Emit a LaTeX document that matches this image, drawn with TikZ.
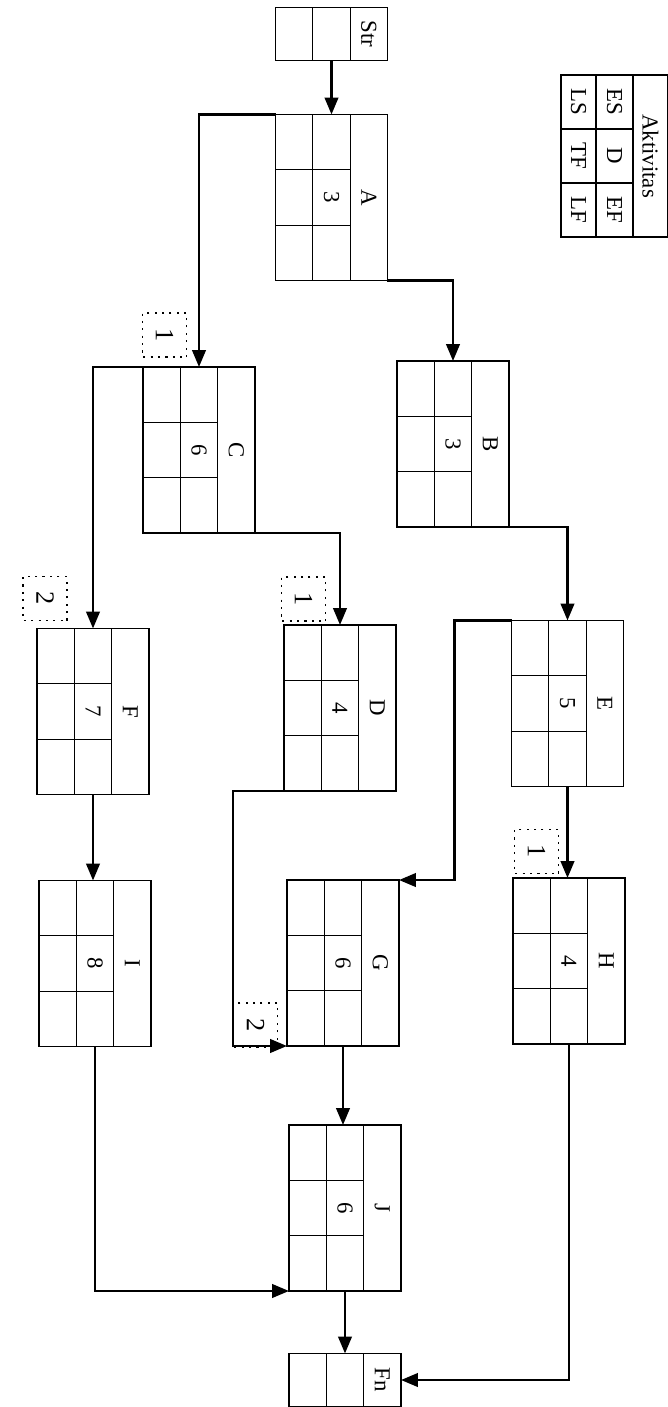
\documentclass[tikz,border=0pt]{standalone}
\usepackage{fontspec}
\setmainfont{Liberation Serif}
\usetikzlibrary{arrows.meta}

\tikzset{
  actbox/.style={draw, line width=1.1pt, minimum width=2.24cm, minimum height=3.32cm, inner sep=0pt, outer sep=0pt},
  termbox/.style={draw, line width=1.1pt, minimum width=2.24cm, minimum height=1.06cm, inner sep=0pt, outer sep=0pt},
  cell/.style={line width=0.6pt},
  txt/.style={rotate=-90, font=\fontsize{13}{15}\selectfont, inner sep=0pt},
  slack/.style={draw, line width=0.9pt, dash pattern=on 1.2pt off 3pt, minimum width=0.88cm, minimum height=0.88cm, inner sep=0pt, rotate=-90, font=\fontsize{15}{17}\selectfont},
  link/.style={line width=1.5pt, -{Triangle[length=3.4mm,width=2.7mm]}},
}

% activity box: name, x, y, label, duration
\newcommand{\actbox}[5]{%
  \begin{scope}[shift={(#2,#3)}]
    \node [actbox] (#1) at (0,0) {};
    \draw [cell] (-18.7,-83) -- (-18.7,83);
    \draw [cell] (18.7,-83) -- (18.7,83);
    \draw [cell] (-56,-27.7) -- (18.7,-27.7);
    \draw [cell] (-56,27.7) -- (18.7,27.7);
    \node [txt] (#1-name) at (37.3,0) {#4};
    \node [txt] (#1-dur) at (0,0) {#5};
  \end{scope}}

% start / finish box: name, x, y, label
\newcommand{\termbox}[4]{%
  \begin{scope}[shift={(#2,#3)}]
    \node [termbox] (#1) at (0,0) {};
    \draw [cell] (-18.7,-26.5) -- (-18.7,26.5);
    \draw [cell] (18.7,-26.5) -- (18.7,26.5);
    \node [txt] (#1-name) at (37.3,0) {#4};
  \end{scope}}

\begin{document}
\begin{tikzpicture}[x=0.02cm, y=-0.02cm]
  \useasboundingbox (0,0) rectangle (668,1407);

  % legend
  \node [draw, line width=1.1pt, minimum width=2.14cm, minimum height=3.24cm, inner sep=0pt] (legend) at (614.5,156) {};
  \draw [cell] (596,75) -- (596,237);
  \draw [cell] (633,75) -- (633,237);
  \draw [cell] (561,129) -- (633,129);
  \draw [cell] (561,183) -- (633,183);
  \node [txt] (lgLS) at (578.5,102) {LS};
  \node [txt] (lgTF) at (578.5,156) {TF};
  \node [txt] (lgLF) at (578.5,210) {LF};
  \node [txt] (lgES) at (614.5,102) {ES};
  \node [txt] (lgD) at (614.5,156) {D};
  \node [txt] (lgEF) at (614.5,210) {EF};
  \node [txt] (lgName) at (650.5,156) {Aktivitas};

  % activities
  \termbox{Str}{331.5}{34}{Str}
  \actbox{A}{331.5}{197.5}{A}{3}
  \actbox{B}{453}{444}{B}{3}
  \actbox{C}{199}{450}{C}{6}
  \actbox{D}{340}{708}{D}{4}
  \actbox{E}{567.5}{703.5}{E}{5}
  \actbox{F}{93}{711.5}{F}{7}
  \actbox{G}{343}{963}{G}{6}
  \actbox{H}{569}{961}{H}{4}
  \actbox{I}{95}{963.5}{I}{8}
  \actbox{J}{345}{1208}{J}{6}
  \termbox{Fn}{345}{1380}{Fn}

  % slack
  \node [slack] (slackC) at (164.5,335) {1};
  \node [slack] (slackD) at (303.5,599) {1};
  \node [slack] (slackF) at (45,598.5) {2};
  \node [slack] (slackH) at (536.5,851.5) {1};
  \node [slack] (slackG) at (255.5,1025) {2};

  % links
  \draw [link] (Str.south) -- (A.north);
  \draw [link] (A.south east) -| (B.north);
  \draw [link] (A.north west) -| (C.north);
  \draw [link] (B.south east) -| (E.north);
  \draw [link] (C.north west) -| (F.north);
  \draw [link] (C.south east) -| (D.north);
  \draw [link] (E.south) -- (E.south |- H.north);
  \draw [link] (E.north west) -- ++(-57,0) |- (G.north east);
  \draw [link] (D.south west) -- ++(-51,0) |- (G.south west);
  \draw [link] (F.south) -- (F.south |- I.north);
  \draw [link] (G.south) -- (G.south |- J.north);
  \draw [link] (I.south) |- (J.south west);
  \draw [link] (J.south) -- (Fn.north);
  \draw [link] (H.south) |- (Fn.east);
\end{tikzpicture}
\end{document}
